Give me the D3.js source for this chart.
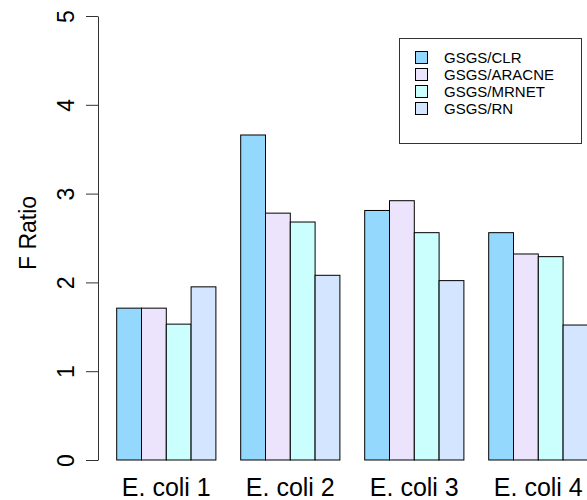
<!DOCTYPE html>
<html>
<head>
<meta charset="utf-8">
<script src="https://cdn.jsdelivr.net/npm/d3@7"></script>
<style>
  html, body { margin: 0; padding: 0; background: #fff; }
  svg { display: block; font-family: "Liberation Sans", Arial, Helvetica, sans-serif; }
</style>
</head>
<body>
<script>
const categories = ["E. coli 1", "E. coli 2", "E. coli 3", "E. coli 4"];
const series = ["GSGS/CLR", "GSGS/ARACNE", "GSGS/MRNET", "GSGS/RN"];
const clrValues    = [1.71, 3.66, 2.81, 2.56];
const aracneValues = [1.71, 2.78, 2.92, 2.32];
const mrnetValues  = [1.53, 2.68, 2.56, 2.29];
const rnValues     = [1.95, 2.08, 2.02, 1.52];
const yTicks = [0, 1, 2, 3, 4, 5];
const colors = ["#95D8FD", "#ECE4FD", "#CAFFFE", "#D3E5FF"];

const valuesBySeries = [clrValues, aracneValues, mrnetValues, rnValues];

const W = 587, H = 500;
const svg = d3.select("body").append("svg").attr("width", W).attr("height", H);

const x0 = d3.scaleBand().domain(categories).range([116.7, 587.9]).paddingInner(0.2).paddingOuter(0);
const x1 = d3.scaleBand().domain(series).range([0, x0.bandwidth()]).padding(0);
const y = d3.scaleLinear().domain([0, 5]).range([460, 16]);

// bars
const groups = svg.append("g").selectAll("g").data(categories).join("g")
  .attr("transform", d => `translate(${x0(d)},0)`);
groups.selectAll("rect")
  .data((c, ci) => series.map((s, si) => ({ s, si, v: valuesBySeries[si][ci] })))
  .join("rect")
  .attr("x", d => x1(d.s))
  .attr("width", x1.bandwidth())
  .attr("y", d => y(d.v))
  .attr("height", d => y(0) - y(d.v))
  .attr("fill", d => colors[d.si])
  .attr("stroke", "#000")
  .attr("stroke-width", 1);

// y axis
const yAxis = svg.append("g").attr("transform", "translate(98,0)")
  .call(d3.axisLeft(y).tickValues(yTicks).tickSize(12).tickSizeOuter(0).tickFormat(d3.format("d")));
yAxis.select(".domain").attr("stroke", "#333");
yAxis.selectAll(".tick line").attr("stroke", "#333");
yAxis.selectAll(".tick text")
  .attr("transform", "rotate(-90)")
  .attr("x", 0).attr("y", -24).attr("dy", null)
  .attr("text-anchor", "middle")
  .attr("fill", "#000")
  .style("font-size", "23px")
  .style("font-family", "Liberation Sans, Arial, sans-serif");

// y title
svg.append("text")
  .attr("transform", "translate(36,233) rotate(-90)")
  .attr("text-anchor", "middle")
  .style("font-size", "23px")
  .text("F Ratio");

// x labels
svg.append("g").selectAll("text").data(categories).join("text")
  .attr("x", d => x0(d) + x0.bandwidth() / 2)
  .attr("y", 496)
  .attr("text-anchor", "middle")
  .style("font-size", "25px")
  .text(d => d);

// legend
const lg = svg.append("g");
lg.append("rect").attr("x", 399.5).attr("y", 38.5).attr("width", 182).attr("height", 105)
  .attr("fill", "#fff").attr("stroke", "#333");
const rows = lg.selectAll("g.row").data(series).join("g").attr("class", "row")
  .attr("transform", (d, i) => `translate(0,${57.5 + i * 17})`);
rows.append("rect").attr("x", 415.5).attr("y", -6).attr("width", 12).attr("height", 12)
  .attr("fill", (d, i) => colors[i]).attr("stroke", "#000");
rows.append("text").attr("x", 444).attr("y", 5.5)
  .style("font-size", "15px").text(d => d);
</script>
</body>
</html>
